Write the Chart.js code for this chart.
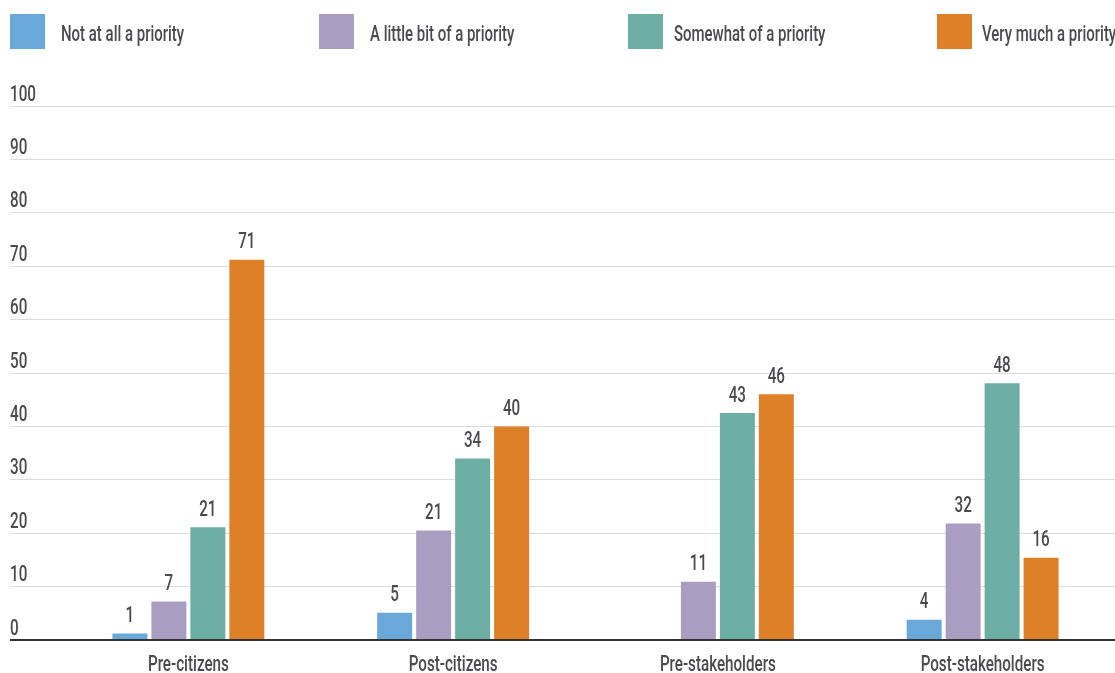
<!DOCTYPE html>
<html>
<head>
<meta charset="utf-8">
<script src="https://cdn.jsdelivr.net/npm/chart.js@4"></script>
<style>
  html, body { margin: 0; padding: 0; background: #fff; }
  #wrap { position: relative; width: 1115px; height: 673px; overflow: hidden; }
  #legend { position: absolute; top: 14px; left: 10px; display: flex; white-space: nowrap; }
  .item { display: flex; align-items: center; width: 309px; }
  .box { width: 35px; height: 35px; margin-right: 16px; flex: none; }
  .txt { font: 500 22px Roboto, sans-serif; color: #4b4b4d; display: inline-block; position: relative; top: 2px; transform: scaleX(0.68); transform-origin: left center; }
</style>
</head>
<body>
<div id="wrap">
  <canvas id="myChart" width="1115" height="673"></canvas>
  <div id="legend"></div>
</div>
<script>
const categories = ['Pre-citizens', 'Post-citizens', 'Pre-stakeholders', 'Post-stakeholders'];
const seriesNames = ['Not at all a priority', 'A little bit of a priority', 'Somewhat of a priority', 'Very much a priority'];

// bar heights as drawn
const notAtAll = [1.2, 5.1, 0, 3.8];
const littleBit = [7.2, 20.5, 10.9, 21.8];
const somewhat = [21.1, 34, 42.5, 48.1];
const veryMuch = [71.2, 40, 46, 15.4];

// numbers printed above the bars
const notAtAllLabels = ['1', '5', null, '4'];
const littleBitLabels = ['7', '21', '11', '32'];
const somewhatLabels = ['21', '34', '43', '48'];
const veryMuchLabels = ['71', '40', '46', '16'];

const yTicks = [0, 10, 20, 30, 40, 50, 60, 70, 80, 90, 100];

const colors = ['#6aa8da', '#a99dc1', '#6cada4', '#de8027'];
const textColor = '#4b4b4d';
const fontFamily = 'Roboto, sans-serif';
const squeeze = 0.69;

const valueLabels = [notAtAllLabels, littleBitLabels, somewhatLabels, veryMuchLabels];

// the original font is a condensed one, squeeze canvas text sideways
const narrowText = {
  id: 'narrowText',
  beforeInit(chart) {
    const ctx = chart.ctx;
    const fill = ctx.fillText.bind(ctx);
    ctx.fillText = function(t, x, y) {
      ctx.save();
      ctx.translate(x, y);
      ctx.scale(squeeze, 1);
      fill(t, 0, 0);
      ctx.restore();
    };
  }
};

const barLabels = {
  id: 'barLabels',
  afterDatasetsDraw(chart) {
    const ctx = chart.ctx;
    ctx.save();
    ctx.font = '500 22px ' + fontFamily;
    ctx.fillStyle = textColor;
    ctx.textAlign = 'center';
    ctx.textBaseline = 'middle';
    chart.data.datasets.forEach(function(ds, i) {
      chart.getDatasetMeta(i).data.forEach(function(bar, j) {
        const t = valueLabels[i][j];
        if (t == null) return;
        ctx.fillText(t, bar.x, bar.y - 17);
      });
    });
    ctx.restore();
  }
};

const data = {
  labels: categories,
  datasets: [notAtAll, littleBit, somewhat, veryMuch].map(function(vals, i) {
    return {
      label: seriesNames[i],
      data: vals,
      backgroundColor: colors[i],
      borderWidth: 0,
      barPercentage: 0.897,
      categoryPercentage: 0.589
    };
  })
};

const config = {
  type: 'bar',
  data: data,
  options: {
    responsive: false,
    animation: false,
    layout: { padding: { left: 10, top: 106, right: 0, bottom: 0 } },
    plugins: {
      legend: { display: false },
      tooltip: { enabled: false }
    },
    scales: {
      x: {
        grid: { display: false },
        border: { display: false },
        ticks: {
          color: textColor,
          font: { family: fontFamily, size: 22, weight: 500 },
          padding: 4,
          maxRotation: 0
        },
        afterFit: function(scale) { scale.height = 33; }
      },
      y: {
        min: 0,
        max: 100,
        afterBuildTicks: function(scale) {
          scale.ticks = yTicks.map(function(v) { return { value: v }; });
        },
        border: { display: false },
        grid: {
          tickLength: 46,
          color: function(c) { return c.tick && c.tick.value === 0 ? '#333' : '#dcdcdc'; },
          lineWidth: function(c) { return c.tick && c.tick.value === 0 ? 2 : 1; }
        },
        ticks: {
          color: textColor,
          font: { family: fontFamily, size: 22, weight: 500 },
          crossAlign: 'far',
          labelOffset: -11
        },
        afterFit: function(scale) { scale.width = 46; }
      }
    }
  },
  plugins: [narrowText, barLabels]
};

var myChart = new Chart(document.getElementById('myChart'), config);

// legend text sits a bit closer to the box on the right-hand items
const textGaps = [16, 16, 11, 10];
const legend = document.getElementById('legend');
myChart.data.datasets.forEach(function(ds, i) {
  const item = document.createElement('div');
  item.className = 'item';
  const box = document.createElement('span');
  box.className = 'box';
  box.style.background = ds.backgroundColor;
  box.style.marginRight = textGaps[i] + 'px';
  const txt = document.createElement('span');
  txt.className = 'txt';
  txt.textContent = ds.label;
  item.appendChild(box);
  item.appendChild(txt);
  legend.appendChild(item);
});
</script>
</body>
</html>
